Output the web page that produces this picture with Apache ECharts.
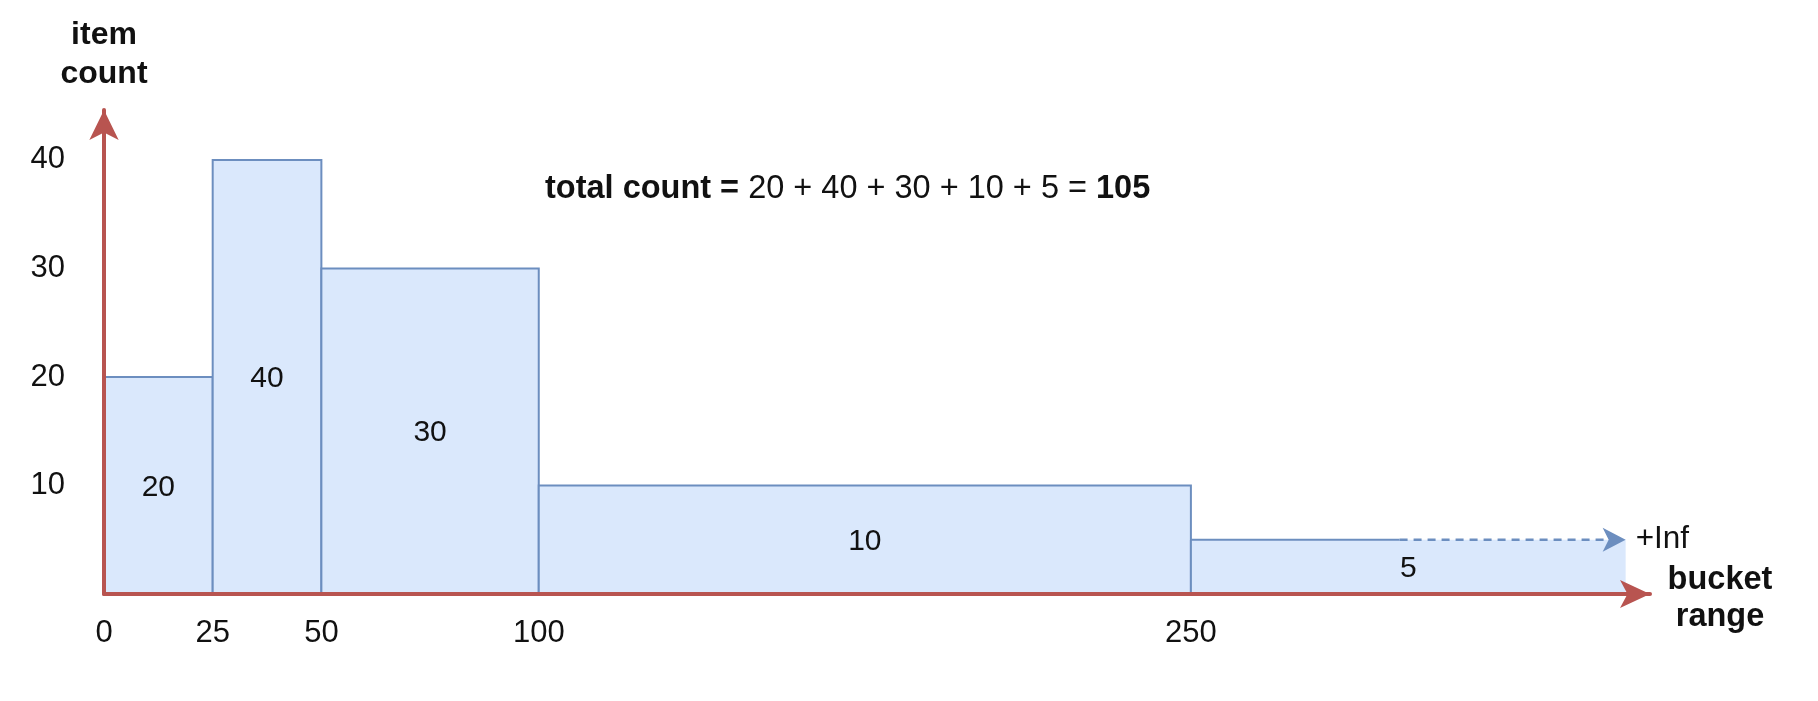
<!DOCTYPE html>
<html>
<head>
<meta charset="utf-8">
<script src="https://cdn.jsdelivr.net/npm/echarts@6/dist/echarts.min.js"></script>
<style>
html,body{margin:0;padding:0;background:#fff;}
#chart{width:1818px;height:701px;}
</style>
</head>
<body>
<div id="chart"></div>
<script>
// ---- data ----
const bucketStarts = [0, 25, 50, 100, 250];
const bucketEnds = [25, 50, 100, 250, 350];   // last bucket is open-ended (+Inf), drawn up to 350
const itemCounts = [20, 40, 30, 10, 5];
const xTickValues = [0, 25, 50, 100, 250];
const yTickValues = [10, 20, 30, 40];
const openSolidEnd = 298;                      // top border of the open bucket is solid up to here, dashed beyond
const openLabel = '+Inf';
const xNameLines = ['bucket', 'range'];
const yName = 'item\ncount';

const FONT = '"Liberation Sans", Arial, Helvetica, sans-serif';
const TXT = '#111111';
const RED = '#b85450';
const BLUE = '#6c8ebf';
const FILL = '#dae8fc';

const total = itemCounts.reduce((a, b) => a + b, 0);
const seriesData = bucketStarts.map((s, i) => [s, bucketEnds[i], itemCounts[i]]);

function renderItem(params, api) {
  const i = params.dataIndex;
  const x0 = api.value(0), x1 = api.value(1), v = api.value(2);
  const pBase = api.coord([x0, 0]);
  const pTop = api.coord([x1, v]);
  const left = pBase[0], right = pTop[0], bottom = pBase[1], top = pTop[1];
  const isOpen = i === bucketStarts.length - 1;
  const children = [];
  if (!isOpen) {
    children.push({
      type: 'rect',
      shape: {x: left, y: top, width: right - left, height: bottom - top},
      style: {fill: FILL, stroke: BLUE, lineWidth: 2}
    });
  } else {
    const xs = api.coord([openSolidEnd, v])[0];
    children.push({
      type: 'rect',
      shape: {x: left, y: top, width: right - left, height: bottom - top},
      style: {fill: FILL, stroke: null}
    });
    children.push({type: 'line', shape: {x1: left, y1: bottom, x2: left, y2: top}, style: {stroke: BLUE, lineWidth: 2}});
    children.push({type: 'line', shape: {x1: left, y1: top, x2: xs, y2: top}, style: {stroke: BLUE, lineWidth: 2}});
    children.push({type: 'line', shape: {x1: xs, y1: top, x2: right - 16, y2: top}, style: {stroke: BLUE, lineWidth: 2.5, lineDash: [8, 6]}});
    children.push({
      type: 'polygon',
      shape: {points: [[right, top], [right - 23, top - 12], [right - 17, top], [right - 23, top + 12]]},
      style: {fill: BLUE, stroke: null}
    });
    children.push({
      type: 'text',
      style: {text: openLabel, x: right + 10, y: top, align: 'left', verticalAlign: 'middle',
              fontSize: 31.5, fontFamily: FONT, fill: TXT}
    });
  }
  children.push({
    type: 'text',
    style: {text: String(v), x: (left + right) / 2, y: (top + bottom) / 2 + 2, align: 'center', verticalAlign: 'middle',
            fontSize: 30, fontFamily: FONT, fill: TXT}
  });
  return {type: 'group', children: children};
}

const chart = echarts.init(document.getElementById('chart'), null, {renderer: 'canvas'});
chart.setOption({
  backgroundColor: '#ffffff',
  animation: false,
  title: {
    left: 545, top: 170, padding: 0,
    text: '{b|total count =} {r|' + itemCounts.join(' + ') + ' =} {b|' + total + '}',
    textStyle: {
      fontSize: 32.5, fontFamily: FONT, color: TXT, lineHeight: 38,
      rich: {
        b: {fontSize: 32.5, fontWeight: 'bold', fontFamily: FONT, color: TXT},
        r: {fontSize: 32.5, fontWeight: 'normal', fontFamily: FONT, color: TXT}
      }
    }
  },
  grid: {left: 104, right: 168, top: 110, bottom: 107, outerBoundsMode: 'none'},
  xAxis: {
    type: 'value', min: 0, max: 355.6, z: 10,
    name: '{s| }\n' + xNameLines.map(t => '{n|' + t + '}').join('\n'),
    nameLocation: 'end', nameGap: 70,
    nameTextStyle: {fontSize: 32.5, fontWeight: 'bold', fontFamily: FONT, color: TXT,
                    align: 'center', verticalAlign: 'middle',
                    rich: {
                      s: {fontSize: 2, lineHeight: 10},
                      n: {fontSize: 32.5, fontWeight: 'bold', fontFamily: FONT, color: TXT, lineHeight: 37}
                    }},
    axisLine: {show: true, symbol: ['none', 'arrow'], symbolSize: [21, 30],
               lineStyle: {color: RED, width: 4}},
    axisTick: {show: false},
    splitLine: {show: false},
    axisLabel: {customValues: xTickValues, fontSize: 31, fontFamily: FONT, color: TXT, margin: 24}
  },
  yAxis: {
    type: 'value', min: 0, max: 44.6, z: 10,
    name: yName, nameLocation: 'end', nameGap: 55,
    nameTextStyle: {fontSize: 32, fontWeight: 'bold', fontFamily: FONT, color: TXT, lineHeight: 39,
                    align: 'center', verticalAlign: 'middle'},
    axisLine: {show: true, symbol: ['none', 'arrow'], symbolSize: [22, 30],
               lineStyle: {color: RED, width: 4}},
    axisTick: {show: false},
    splitLine: {show: false},
    axisLabel: {customValues: yTickValues, fontSize: 31, fontFamily: FONT, color: TXT, margin: 39}
  },
  series: [{
    type: 'custom',
    renderItem: renderItem,
    data: seriesData,
    encode: {x: [0, 1], y: 2},
    z: 2,
    clip: false
  }]
});
</script>
</body>
</html>
